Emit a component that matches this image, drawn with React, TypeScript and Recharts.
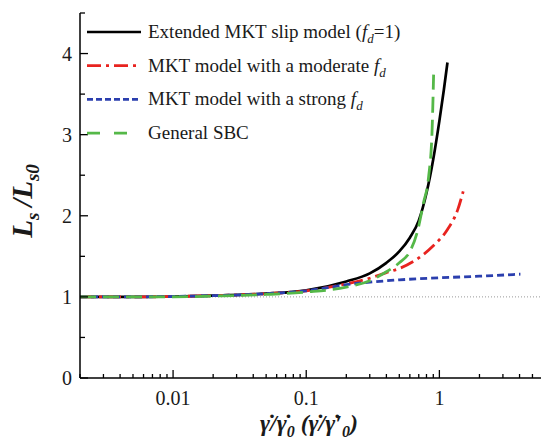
import React from "react";
import { LineChart, Line, XAxis, YAxis, ReferenceLine } from "recharts";

// shear rate ratio (x) and slip length ratio (y)
const xExtended = [0.002, 0.005, 0.01, 0.02, 0.05, 0.1, 0.2, 0.3, 0.4, 0.5, 0.6, 0.7, 0.8, 0.9, 1.0, 1.08, 1.15];
const yExtended = [1.0, 1.0, 1.005, 1.015, 1.04, 1.08, 1.19, 1.29, 1.42, 1.56, 1.73, 1.94, 2.28, 2.7, 3.17, 3.55, 3.89];

const xModerate = [0.002, 0.005, 0.01, 0.02, 0.05, 0.1, 0.2, 0.3, 0.4, 0.5, 0.7, 0.9, 1.15, 1.37, 1.51];
const yModerate = [1.0, 1.0, 1.005, 1.015, 1.04, 1.075, 1.16, 1.23, 1.3, 1.35, 1.48, 1.63, 1.83, 2.07, 2.3];

const xStrong = [0.002, 0.005, 0.01, 0.02, 0.05, 0.1, 0.2, 0.5, 1, 2, 4.06];
const yStrong = [1.0, 1.0, 1.005, 1.015, 1.04, 1.075, 1.15, 1.21, 1.235, 1.255, 1.28];

const xSBC = [0.002, 0.005, 0.01, 0.02, 0.05, 0.1, 0.2, 0.3, 0.4, 0.5, 0.6, 0.68, 0.76, 0.83, 0.88, 0.905];
const ySBC = [1.0, 1.0, 1.0, 1.01, 1.03, 1.06, 1.12, 1.2, 1.31, 1.42, 1.56, 1.79, 2.16, 2.48, 3.02, 3.74];

const xTicks = [
  0.002, 0.003, 0.004, 0.005, 0.006, 0.007, 0.008, 0.009,
  0.01, 0.02, 0.03, 0.04, 0.05, 0.06, 0.07, 0.08, 0.09,
  0.1, 0.2, 0.3, 0.4, 0.5, 0.6, 0.7, 0.8, 0.9,
  1, 2, 3, 4, 5, 6,
];
const xMajor = [0.01, 0.1, 1];
const yTicks = [0, 0.5, 1, 1.5, 2, 2.5, 3, 3.5, 4, 4.5];
const yMajor = [0, 1, 2, 3, 4];

const zip = (xs: number[], ys: number[]) => xs.map((x, i) => ({ x, y: ys[i] }));

const FONT = "'Liberation Serif', 'Times New Roman', serif";
const isMajor = (v: number, list: number[]) => list.some((m) => Math.abs(m - v) < 1e-9);

const BottomTick = (props: any) => {
  const { x, y, payload } = props;
  const major = isMajor(payload.value, xMajor);
  return (
    <g>
      <line x1={x} x2={x} y1={y} y2={y - (major ? 8 : 4)} stroke="#000" strokeWidth={1.3} />
      {major && (
        <text x={x} y={y + 27} textAnchor="middle" fontFamily={FONT} fontSize={20} fill="#1a1a1a">
          {String(payload.value)}
        </text>
      )}
    </g>
  );
};

const TopTick = (props: any) => {
  const { x, y, payload } = props;
  const major = isMajor(payload.value, xMajor);
  return <line x1={x} x2={x} y1={y} y2={y + (major ? 8 : 4)} stroke="#000" strokeWidth={1.3} />;
};

const LeftTick = (props: any) => {
  const { x, y, payload } = props;
  const major = isMajor(payload.value, yMajor);
  return (
    <g>
      <line x1={x} x2={x + (major ? 8 : 5)} y1={y} y2={y} stroke="#000" strokeWidth={1.3} />
      {major && (
        <text x={x - 8} y={y + 7} textAnchor="end" fontFamily={FONT} fontSize={20} fill="#1a1a1a">
          {String(payload.value)}
        </text>
      )}
    </g>
  );
};

const RightTick = (props: any) => {
  const { x, y, payload } = props;
  const major = isMajor(payload.value, yMajor);
  return <line x1={x} x2={x - (major ? 8 : 5)} y1={y} y2={y} stroke="#000" strokeWidth={1.3} />;
};

const legendItems = [
  { color: "#000000", dash: undefined, main: "Extended MKT slip model (", tail: "=1)" },
  { color: "#e8231f", dash: "14 5 3 5", main: "MKT model with a moderate ", tail: "" },
  { color: "#2b3fae", dash: "6 3", main: "MKT model with a strong ", tail: "" },
  { color: "#55b848", dash: "13 14", main: "General SBC", tail: null },
];

export default function App() {
  return (
    <div style={{ position: "absolute", left: 0, top: 0, width: 541, height: 444, overflow: "hidden", background: "#fff" }}>
      <LineChart width={545} height={444} margin={{ top: 13, right: 2, bottom: 0, left: 0 }}>
        <XAxis
          xAxisId={0}
          dataKey="x"
          type="number"
          scale="log"
          domain={[0.002, 6]}
          allowDataOverflow
          ticks={xTicks}
          interval={0}
          tick={<BottomTick />}
          tickLine={false}
          tickSize={0}
          tickMargin={0}
          height={66}
          axisLine={{ stroke: "#000", strokeWidth: 1.5 }}
        />
        <XAxis
          xAxisId="top"
          orientation="top"
          dataKey="x"
          type="number"
          scale="log"
          domain={[0.002, 6]}
          allowDataOverflow
          ticks={xTicks}
          interval={0}
          tick={<TopTick />}
          tickLine={false}
          tickSize={0}
          tickMargin={0}
          height={0}
          axisLine={{ stroke: "#000", strokeWidth: 1.5 }}
        />
        <YAxis
          yAxisId={0}
          type="number"
          domain={[0, 4.5]}
          ticks={yTicks}
          interval={0}
          tick={<LeftTick />}
          tickLine={false}
          tickSize={0}
          tickMargin={0}
          width={80}
          axisLine={{ stroke: "#000", strokeWidth: 1.5 }}
        />
        <YAxis
          yAxisId="right"
          orientation="right"
          type="number"
          domain={[0, 4.5]}
          ticks={yTicks}
          interval={0}
          tick={<RightTick />}
          tickLine={false}
          tickSize={0}
          tickMargin={0}
          width={0}
          axisLine={{ stroke: "#000", strokeWidth: 1.5 }}
        />
        <ReferenceLine y={1} stroke="#999" strokeDasharray="1 2" strokeWidth={1} />
        <Line data={zip(xExtended, yExtended)} dataKey="y" type="monotone" stroke="#000000" strokeWidth={2.7} dot={false} isAnimationActive={false} />
        <Line data={zip(xModerate, yModerate)} dataKey="y" type="monotone" stroke="#e8231f" strokeWidth={2.8} strokeDasharray="14 5 3 5" dot={false} isAnimationActive={false} />
        <Line data={zip(xStrong, yStrong)} dataKey="y" type="monotone" stroke="#2b3fae" strokeWidth={2.8} strokeDasharray="7 4" dot={false} isAnimationActive={false} />
        <Line data={zip(xSBC, ySBC)} dataKey="y" type="monotone" stroke="#55b848" strokeWidth={2.8} strokeDasharray="16 7" dot={false} isAnimationActive={false} />
      </LineChart>
      <svg width={541} height={444} style={{ position: "absolute", left: 0, top: 0, pointerEvents: "none" }}>
        {legendItems.map((it, i) => {
          const cy = 32 + i * 33.7;
          return (
            <g key={i}>
              <line x1={87} x2={141} y1={cy} y2={cy} stroke={it.color} strokeWidth={2.7} strokeDasharray={it.dash} />
              <text x={148} y={cy + 6} fontFamily={FONT} fontSize={19} fill="#1a1a1a">
                {it.main}
                {it.tail !== null && <tspan fontStyle="italic">f</tspan>}
                {it.tail !== null && (
                  <tspan fontStyle="italic" fontSize={13} dy={5}>
                    d
                  </tspan>
                )}
                {it.tail ? <tspan dy={-5}>{it.tail}</tspan> : null}
              </text>
            </g>
          );
        })}
        <text
          transform="translate(32 201) rotate(-90)"
          textAnchor="middle"
          fontFamily={FONT}
          fontSize={29}
          fontWeight="bold"
          fontStyle="italic"
          fill="#1a1a1a"
        >
          L<tspan fontSize={19} dy={7}>s</tspan>
          <tspan dy={-7}>{"\u2009/L"}</tspan>
          <tspan fontSize={19} dy={7}>s0</tspan>
        </text>
        <text x={309} y={431} textAnchor="middle" fontFamily={FONT} fontSize={24} fontWeight="bold" fontStyle="italic" fill="#1a1a1a">
          {"γ\u0307/γ\u0307"}
          <tspan fontSize={16} dy={6}>0</tspan>
          <tspan dy={-6}>{" (γ\u0307/γ\u0307\u2032"}</tspan>
          <tspan fontSize={16} dy={6}>0</tspan>
          <tspan dy={-6}>)</tspan>
        </text>
      </svg>
    </div>
  );
}
